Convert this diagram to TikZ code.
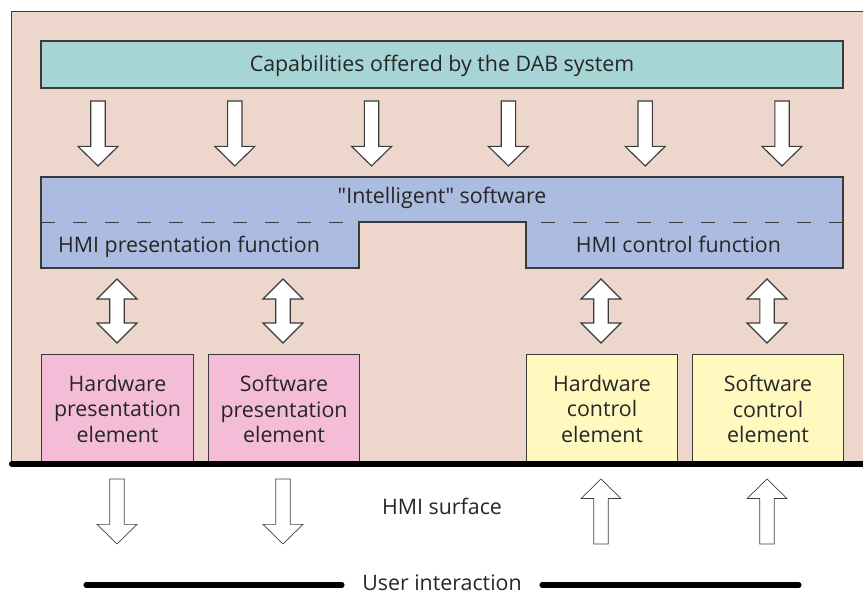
\documentclass[tikz,border=0pt]{standalone}
\usepackage{fontspec}
\setmainfont{Open Sans}
\usetikzlibrary{positioning}

\definecolor{bgpink}{HTML}{EDD7CC}
\definecolor{capteal}{HTML}{A7D4D4}
\definecolor{swblue}{HTML}{ABBCE0}
\definecolor{prespink}{HTML}{F5BCD8}
\definecolor{ctrlyellow}{HTML}{FFF9BF}
\definecolor{edgegray}{HTML}{3A3A3A}

\tikzset{
  every node/.style={font=\fontsize{15.2}{18.2}\selectfont, text=black!85},
  label/.style={anchor=base},
  elembox/.style={draw=edgegray, line width=0.8pt, anchor=south west,
    minimum height=2.725cm, align=center, inner sep=0pt},
  blockarrow/.style={draw=edgegray, fill=white, line width=0.8pt, line join=miter},
  thinarrow/.style={draw=black!75, fill=white, line width=0.5pt, line join=miter},
  userline/.style={line width=3.6pt, line cap=round},
}

% block arrows: centre x, top y, bottom y
\newcommand{\arrdown}[4][blockarrow]{%
  \draw[#1] (#2-0.18,#3) -- (#2+0.18,#3) -- (#2+0.18,#4+0.49) -- (#2+0.5,#4+0.49)
    -- (#2,#4) -- (#2-0.5,#4+0.49) -- (#2-0.18,#4+0.49) -- cycle;}
\newcommand{\arrup}[4][blockarrow]{%
  \draw[#1] (#2-0.18,#4) -- (#2+0.18,#4) -- (#2+0.18,#3-0.49) -- (#2+0.5,#3-0.49)
    -- (#2,#3) -- (#2-0.5,#3-0.49) -- (#2-0.18,#3-0.49) -- cycle;}
\newcommand{\arrboth}[3]{%
  \draw[blockarrow] (#1,#2) -- (#1+0.5,#2-0.5) -- (#1+0.18,#2-0.5) -- (#1+0.18,#3+0.5)
    -- (#1+0.5,#3+0.5) -- (#1,#3) -- (#1-0.5,#3+0.5) -- (#1-0.18,#3+0.5)
    -- (#1-0.18,#2-0.5) -- (#1-0.5,#2-0.5) -- cycle;}

\begin{document}
\begin{tikzpicture}
    \useasboundingbox (0,0) rectangle (21.575,14.85);

    % Frame
    \fill[bgpink] (0.275,3.25) rectangle (21.8,14.575);
    \draw[edgegray, line width=0.6pt] (0.275,3.25) -- (0.275,14.575) -- (21.8,14.575);

    % DAB capabilities
    \draw[edgegray, line width=0.8pt, fill=capteal] (1.025,12.65) rectangle (21.075,13.825);
    \node[label] (cap) at (11.05,13.06) {Capabilities offered by the DAB system};

    % Arrows down
    \foreach \x in {2.45,5.87,9.29,12.71,16.13,19.55}
        \arrdown{\x}{12.325}{10.7};

    % Intelligent software
    \draw[edgegray, line width=0.8pt, fill=swblue] (1.025,10.425) -- (21.075,10.425)
        -- (21.075,8.15) -- (13.15,8.15) -- (13.15,9.3) -- (8.975,9.3)
        -- (8.975,8.15) -- (1.025,8.15) -- cycle;
    \draw[edgegray, line width=0.6pt, dash pattern=on 0.36cm off 0.44cm] (1.025,9.3) -- (8.975,9.3);
    \draw[edgegray, line width=0.6pt, dash pattern=on 0.36cm off 0.44cm] (21.075,9.3) -- (13.15,9.3);
    \node[label] (intel) at (11.05,9.75) {\textquotedbl Intelligent\textquotedbl{} software};
    \node[label] (presfn) at (4.725,8.525) {HMI presentation function};
    \node[label] (ctrlfn) at (16.96,8.525) {HMI control function};

    % Two-way arrows
    \foreach \x in {2.925,7.075,15.025,19.175}
        \arrboth{\x}{7.875}{6.275};

    % Elements
    \node[elembox, fill=prespink, minimum width=3.8cm] (hwpres) at (1.025,3.25)
        {Hardware\\presentation\\element};
    \node[elembox, fill=prespink, minimum width=3.775cm] (swpres) at (5.2,3.25)
        {Software\\presentation\\element};
    \node[elembox, fill=ctrlyellow, minimum width=3.775cm] (hwctrl) at (13.15,3.25)
        {Hardware\\control\\element};
    \node[elembox, fill=ctrlyellow, minimum width=3.775cm] (swctrl) at (17.3,3.25)
        {Software\\control\\element};

    % HMI surface
    \draw[line width=4.4pt, line cap=round] (0.3,3.25) -- (21.8,3.25);
    \node[label] (surface) at (11.05,1.975) {HMI surface};

    % Arrows out and in
    \arrdown[thinarrow]{2.925}{2.875}{1.25};
    \arrdown[thinarrow]{7.075}{2.875}{1.25};
    \arrup[thinarrow]{15.025}{2.875}{1.25};
    \arrup[thinarrow]{19.175}{2.875}{1.25};

    % User interaction
    \coordinate (uil) at (2.15,0.225);
    \coordinate (uir) at (19.975,0.225);
    \node[inner xsep=0.5cm, inner ysep=0pt, label] (user) at (11.05,0.09) {User interaction};
    \draw[userline] (uil) -- (uil -| user.west);
    \draw[userline] (uir -| user.east) -- (uir);
\end{tikzpicture}
\end{document}
